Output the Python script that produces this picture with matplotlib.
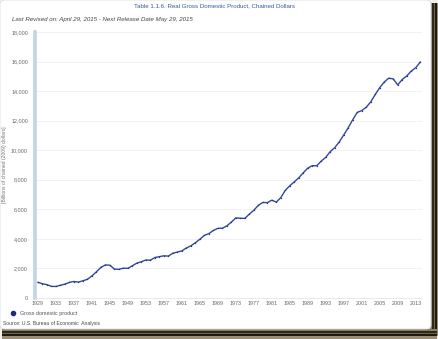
import matplotlib
matplotlib.use("Agg")
import matplotlib.pyplot as plt
from matplotlib.patches import Rectangle, FancyBboxPatch
from matplotlib.lines import Line2D

plt.rcParams['font.family'] = ['Liberation Sans', 'DejaVu Sans']

years = list(range(1929, 2015))
gdp = [1056.6, 966.7, 904.8, 788.2, 778.3, 862.2, 939.0, 1060.5, 1114.6, 1077.7,
       1163.6, 1266.1, 1490.3, 1771.8, 2073.7, 2239.4, 2217.8, 1960.9, 1939.4, 2020.0,
       2008.9, 2184.0, 2360.0, 2456.1, 2571.4, 2556.9, 2739.0, 2797.4, 2856.3, 2835.3,
       3031.0, 3108.7, 3188.1, 3383.1, 3530.4, 3734.0, 3976.7, 4238.9, 4355.2, 4569.0,
       4712.5, 4722.0, 4877.6, 5134.3, 5424.1, 5396.0, 5385.4, 5675.4, 5937.0, 6267.2,
       6466.2, 6450.4, 6617.7, 6491.3, 6792.0, 7285.0, 7593.8, 7860.5, 8132.6, 8474.5,
       8786.4, 8955.0, 8948.4, 9266.6, 9521.0, 9905.4, 10174.8, 10561.0, 11034.9, 11525.9,
       12065.9, 12559.7, 12682.2, 12908.8, 13271.1, 13773.5, 14234.2, 14613.8, 14873.7, 14830.4,
       14418.7, 14783.8, 15020.6, 15354.6, 15583.3, 15961.7]
xtick_years = list(range(1929, 2014, 4))
yticks = list(range(0, 18001, 2000))

W, H = 439, 339
fig = plt.figure(figsize=(W / 100, H / 100), dpi=100)
fig.patch.set_facecolor("#f4f1ea")

def fx(px):
    return px / W

def fy(py):
    return 1 - py / H

# shadow stripes (right and bottom)
shadow = [(430, "#8a7c66"), (432, "#2e2818"), (434, "#6f6450"), (435, "#1f1a10"), (437, "#9a8e78")]
for i, (x0, c) in enumerate(shadow):
    x1 = shadow[i + 1][0] if i + 1 < len(shadow) else 439
    fig.add_artist(Rectangle((fx(x0), fy(336)), fx(x1 - x0), (336 - 3) / H,
                             transform=fig.transFigure, color=c, lw=0, zorder=0))
bshadow = [(329, "#8a7c66"), (331, "#2e2818"), (333, "#6f6450"), (334, "#1f1a10"), (336, "#9a8e78")]
for i, (y0, c) in enumerate(bshadow):
    y1 = bshadow[i + 1][0] if i + 1 < len(bshadow) else 339
    fig.add_artist(Rectangle((fx(2), fy(y1)), fx(437 - 2), (y1 - y0) / H,
                             transform=fig.transFigure, color=c, lw=0, zorder=0))

# white panel
fig.add_artist(FancyBboxPatch((fx(0), fy(329)), fx(431), 329 / H,
                              boxstyle="round,pad=0,rounding_size=0.012",
                              transform=fig.transFigure, facecolor="white",
                              edgecolor="#d8dde6", lw=0.6, zorder=1))

ax = fig.add_axes([fx(35), fy(298), fx(422 - 35), (298 - 32) / H])
ax.set_zorder(3)
ax.set_facecolor("none")
ax.plot(years, gdp, color="#33479a", lw=1.0, marker="o", ms=1.0,
        markerfacecolor="#26387f", markeredgewidth=0, zorder=3)
ax.set_xlim(1928.35, 2014.4)
ax.set_ylim(0, 18000)
ax.set_yticks(yticks)
ax.set_yticklabels([f"{v:,}" for v in yticks], fontsize=3.9, color="#666666")
ax.set_xticks(xtick_years)
ax.set_xticklabels([str(y) for y in xtick_years], fontsize=3.9, color="#666666")
ax.tick_params(axis="both", length=0, pad=2.5)
ax.tick_params(axis="y", pad=5)
ax.grid(axis="y", color="#f0f0f0", lw=0.6)
for s in ["top", "right"]:
    ax.spines[s].set_visible(False)
ax.spines["bottom"].set_color("#e2e6ee")
ax.spines["bottom"].set_linewidth(0.6)
ax.spines["left"].set_color("#c2d4e8")
ax.spines["left"].set_linewidth(2.6)
ax.set_ylabel("[Billions of chained (2009) dollars]", fontsize=3.6, color="#777777")
ax.yaxis.set_label_coords(-(35 - 7) / (422 - 35), 0.5)

fig.text(fx(215), fy(6), "Table 1.1.6. Real Gross Domestic Product, Chained Dollars",
         ha="center", va="center", fontsize=4.4, color="#3a56a0", zorder=5)
fig.text(fx(12), fy(19), "Last Revised on: April 29, 2015 - Next Release Date May 29, 2015",
         ha="left", va="center", fontsize=4.4, color="#444444", style="italic", zorder=5)
fig.add_artist(Line2D([fx(13)], [fy(313)], marker="o", ms=3, color="#1c2a7a",
                      transform=fig.transFigure, zorder=5))
fig.text(fx(20), fy(313), "Gross domestic product", ha="left", va="center",
         fontsize=3.9, color="#555555", zorder=5)
fig.text(fx(3), fy(323), "Source: U.S. Bureau of Economic  Analysis", ha="left", va="center",
         fontsize=3.6, color="#444444", zorder=5)

fig.savefig("out.png", dpi=100, facecolor=fig.get_facecolor())
